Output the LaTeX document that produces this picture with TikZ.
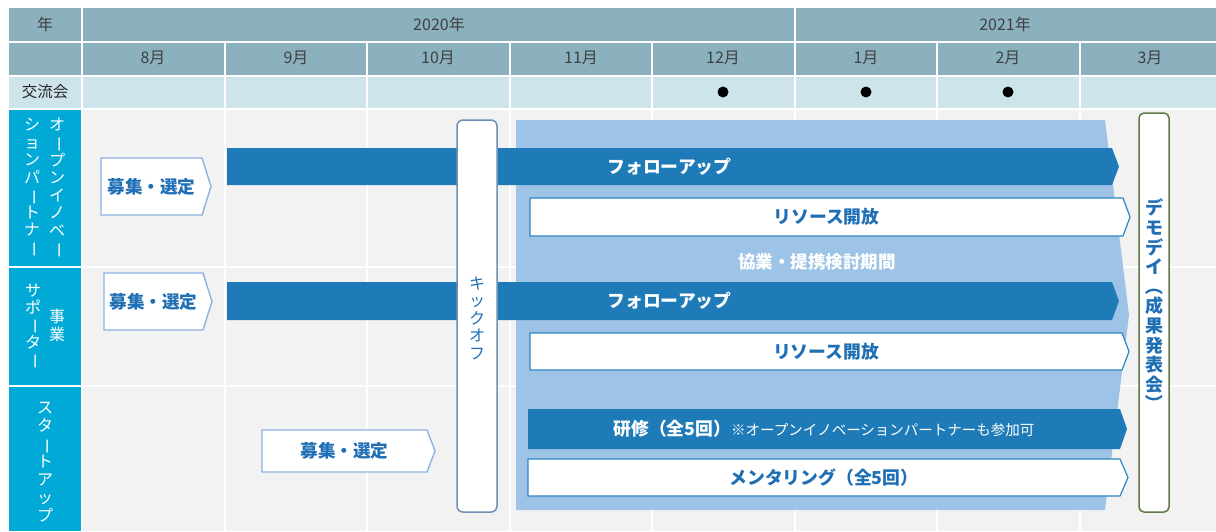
\documentclass[tikz,border=0pt]{standalone}
\usepackage{fontspec}
\setmainfont{Noto Sans CJK JP}
\usepackage{graphicx}
\definecolor{headbg}{HTML}{8BB1BF}
\definecolor{headtx}{HTML}{404040}
\definecolor{rowlt}{HTML}{CDE4EA}
\definecolor{labblue}{HTML}{00A9D6}
\definecolor{bodybg}{HTML}{F2F2F2}
\definecolor{darkbar}{HTML}{1F7BB8}
\definecolor{ltarea}{HTML}{9DC3E6}
\definecolor{boxline}{HTML}{2E86C1}
\definecolor{recline}{HTML}{8DB3E2}
\definecolor{txblue}{HTML}{1F6FB5}
\definecolor{kickline}{HTML}{6E8FB6}
\definecolor{demoline}{HTML}{5F7A45}
\newcommand{\vb}{\rotatebox[origin=c]{-90}{ー}}
\newcommand{\vlp}{\rotatebox[origin=c]{-90}{（}}
\newcommand{\vrp}{\rotatebox[origin=c]{-90}{）}}
% bar: #1 style, #2 x1, #3 y1, #4 x2, #5 y2, #6 tip, #7 name, #8 text style, #9 text
\newcommand{\abar}[9]{%
  \path[#1] (#2,#3) -- (#4,#3) -- ({#4+#6},{(#3+#5)/2}) -- (#4,#5) -- (#2,#5) -- cycle;
  \node[#8] (#7) at ({(#2+#4)/2},{(#3+#5)/2}) {#9};
}
\tikzset{
  grid/.style={white, line width=2pt},
  headtext/.style={text=headtx, font=\fontsize{16}{16}\selectfont, inner sep=0},
  vtext/.style={align=center, text=white, inner sep=0},
  darkfill/.style={fill=darkbar},
  whitebar/.style={fill=white, draw=boxline, line width=1.2pt},
  recbox/.style={fill=white, draw=recline, line width=1.4pt},
  bartext/.style={text=white, font=\bfseries\fontsize{17.8}{18}\selectfont, inner sep=0},
  wbartext/.style={text=txblue, font=\bfseries\fontsize{17.8}{18}\selectfont, inner sep=0},
  rectext/.style={text=txblue, font=\bfseries\fontsize{17.6}{18}\selectfont, inner sep=0},
  dot/.style={circle, fill=black, minimum size=11pt, inner sep=0},
}
\begin{document}
\begin{tikzpicture}[x=1pt,y=-1pt]
\useasboundingbox (0,0) rectangle (1216,531);
\fill[white] (0,0) rectangle (1216,531);
% backgrounds
\fill[headbg] (9,8) rectangle (1216,75.5);
\fill[rowlt] (9,75.5) rectangle (1216,109);
\fill[bodybg] (82,109) rectangle (1216,531);
\fill[labblue] (9,109) rectangle (82,531);
% grid
\foreach \x in {224.5,367,509.5,652,937,1079.5} \draw[grid] (\x,41) -- (\x,531);
\draw[grid] (82,8) -- (82,531);
\draw[grid] (794.5,8) -- (794.5,531);
\foreach \y in {41.5,75.5,109,266.5,385.5} \draw[grid] (9,\y) -- (1216,\y);
% header texts
\node[headtext] (nen) at (45,24) {年};
\node[headtext] (y2020) at (439,24) {2020年};
\node[headtext] (y2021) at (1005,24) {2021年};
\foreach \m/\x in {8/153,9/296,10/438,11/581,12/723,1/866,2/1008,3/1150}
  \node[headtext] (m\m) at (\x,58) {\m 月};
\node[headtext, text=black!85, font=\fontsize{15.5}{16}\selectfont] (kor) at (45,92) {交流会};
\node[dot] (d12) at (723,92) {};
\node[dot] (d1) at (866,92) {};
\node[dot] (d2) at (1008,92) {};
% left labels
\node[vtext, font=\fontsize{16}{17.5}\selectfont] (l1r) at (57,188) {オ\\\vb\\プ\\ン\\イ\\ノ\\ベ\\\vb};
\node[vtext, font=\fontsize{16}{17.5}\selectfont] (l1l) at (32,188) {シ\\ョ\\ン\\パ\\\vb\\ト\\ナ\\\vb};
\node[vtext, font=\fontsize{16}{18}\selectfont] (l2r) at (57,325) {事\\業};
\node[vtext, font=\fontsize{16}{16.5}\selectfont] (l2l) at (33,327) {サ\\ポ\\\vb\\タ\\\vb};
\node[vtext, font=\fontsize{16}{17.9}\selectfont] (l3) at (45,462) {ス\\タ\\\vb\\ト\\ア\\ッ\\プ};
% light area
\fill[ltarea] (516,120) -- (1105,120) -- (1129,315) -- (1105,510) -- (516,510) -- cycle;
\node[bartext, font=\bfseries\fontsize{17.5}{18}\selectfont] (kyo) at (817,262) {協業・提携検討期間};
% bars
\abar{darkfill}{227}{148}{1112}{185}{7}{fu1}{bartext}{フォローアップ}
\abar{whitebar}{530}{198}{1123}{236}{7}{rs1}{wbartext}{リソース開放}
\abar{darkfill}{227}{282}{1112}{320}{7}{fu2}{bartext}{フォローアップ}
\abar{whitebar}{530}{333}{1122}{370}{7}{rs2}{wbartext}{リソース開放}
\abar{darkfill}{528}{409}{1120}{449}{7}{ks}{bartext}{研修（全5回）{\mdseries\fontsize{14.5}{15}\selectfont ※オープンイノベーションパートナーも参加可}}
\abar{whitebar}{528}{459}{1120}{496}{8}{mt}{wbartext}{メンタリング（全5回）}
% recruitment boxes
\abar{recbox}{101}{158}{202}{215}{9}{rec1}{rectext}{募集・選定}
\abar{recbox}{104}{273}{203}{330}{9}{rec2}{rectext}{募集・選定}
\abar{recbox}{262}{430}{427}{472}{8}{rec3}{rectext}{募集・選定}
% kickoff
\draw[fill=white, draw=kickline, line width=1.5pt, rounded corners=6pt] (457,120) rectangle (497,512);
\node[vtext, text=txblue, font=\fontsize{16}{17.5}\selectfont] (kick) at (477,318) {キ\\ッ\\ク\\オ\\フ};
% demo day
\draw[fill=white, draw=demoline, line width=1.5pt, rounded corners=5pt] (1139,113) rectangle (1169,512);
\node[vtext, text=txblue, font=\bfseries\fontsize{18}{19.6}\selectfont] (demo) at (1154,306) {デ\\モ\\デ\\イ\\\vlp\\成\\果\\発\\表\\会\\\vrp};
\end{tikzpicture}
\end{document}
